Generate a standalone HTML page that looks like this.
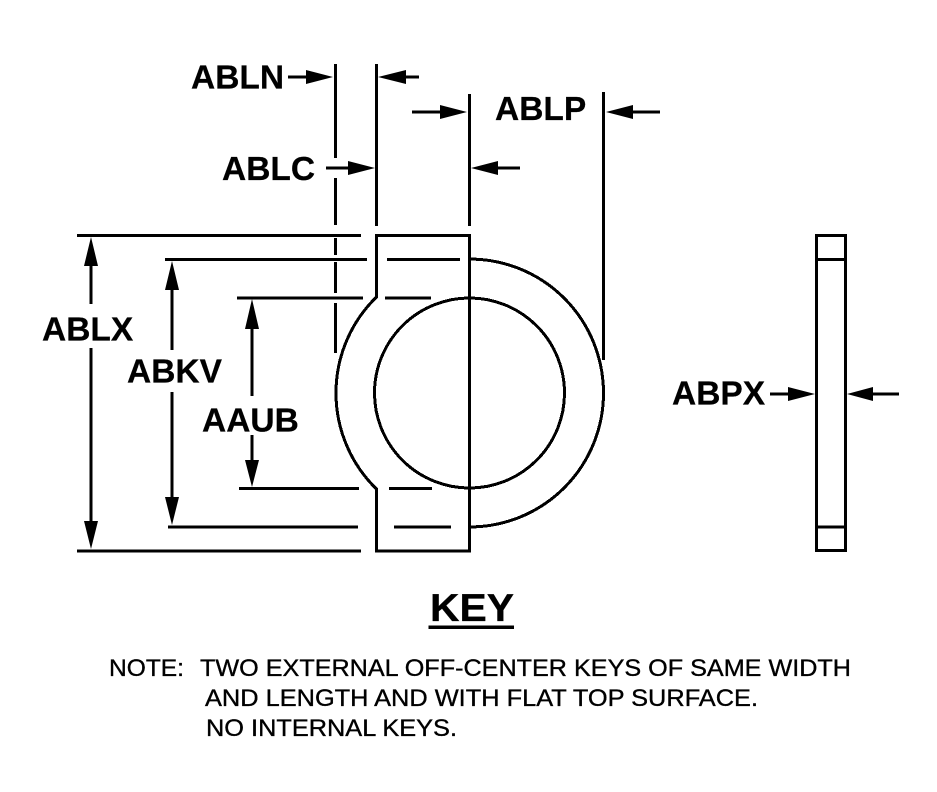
<!DOCTYPE html>
<html><head><meta charset="utf-8"><style>
html,body{margin:0;padding:0;background:#fff}
svg{display:block}
text{font-family:"Liberation Sans",sans-serif;fill:#000;stroke:#000}
.b{font-weight:bold;font-size:33.500px;stroke-width:.25}
.n{font-size:24px;stroke-width:.35}
</style></head><body>
<svg width="937" height="792" viewBox="0 0 937 792" xmlns="http://www.w3.org/2000/svg">
<g fill="none" stroke="#000" stroke-width="3" shape-rendering="crispEdges">
<path d="M335.5 64V158M335.5 178V225M335.5 238V255M335.5 262V293M335.5 303V353"/>
<path d="M376.5 64V226M469.5 94V226M603.5 92V360"/>
<path d="M376.5 297V235.500H469.500V551H376.500V489A134 134 0 0 1 376.500 297Z"/>
<path d="M469.5 259A134 134 0 0 1 469.500 527"/>
<circle cx="469.500" cy="393" r="95"/>
<path d="M77 235.500H361M165 259.500H367M387 259.500H460M237 298H363M385 298H431M239 488.500H359M389 488.500H432M168 527H358M394 527H451M77 551H361"/>
<rect x="816.500" y="235.500" width="29" height="315"/>
<path d="M816.500 259.500H845.500M816.500 527H845.500"/>
<path d="M288 77H306M406 77H419M326 168H348M412 112H440M633 112H660M498 168H520"/>
<path d="M91 266V304M91 348V521M172 290V350M172 392V497M252 329V396M252 435V460M770 394H788M873 394H899"/>
</g>
<g fill="#000">
<path d="M333 77L306 70V84ZM378 77L406 70V84ZM375 168L348 161V175ZM467 112L440 105V119ZM606 112L633 105V119ZM471 168L498 161V175Z"/>
<path d="M91 237L84 266H98ZM91 549L84 521H98ZM172 261L165 290H179ZM172 525L165 497H179ZM252 299L245 329H259ZM252 487L245 460H259ZM815 394L788 387V401ZM847 394L873 387V401Z"/>
</g>
<text class="b" x="191" y="88.500">ABLN</text>
<text class="b" x="222" y="180">ABLC</text>
<text class="b" x="495" y="120">ABLP</text>
<text class="b" x="42" y="340.500">ABLX</text>
<text class="b" x="127" y="382.500">ABKV</text>
<text class="b" x="202" y="431.500">AAUB</text>
<text class="b" x="672" y="404.500">ABPX</text>
<text x="430" y="621" font-size="39" font-weight="bold" stroke-width=".3" textLength="84" lengthAdjust="spacingAndGlyphs">KEY</text>
<rect x="428.500" y="625.500" width="85.500" height="3.500" fill="#000"/>
<text class="n" x="109" y="676" textLength="75" lengthAdjust="spacingAndGlyphs">NOTE:</text>
<text class="n" x="200" y="676" textLength="651" lengthAdjust="spacingAndGlyphs">TWO EXTERNAL OFF-CENTER KEYS OF SAME WIDTH</text>
<text class="n" x="205" y="706" textLength="553" lengthAdjust="spacingAndGlyphs">AND LENGTH AND WITH FLAT TOP SURFACE.</text>
<text class="n" x="206" y="736" textLength="251" lengthAdjust="spacingAndGlyphs">NO INTERNAL KEYS.</text>
</svg>
</body></html>
